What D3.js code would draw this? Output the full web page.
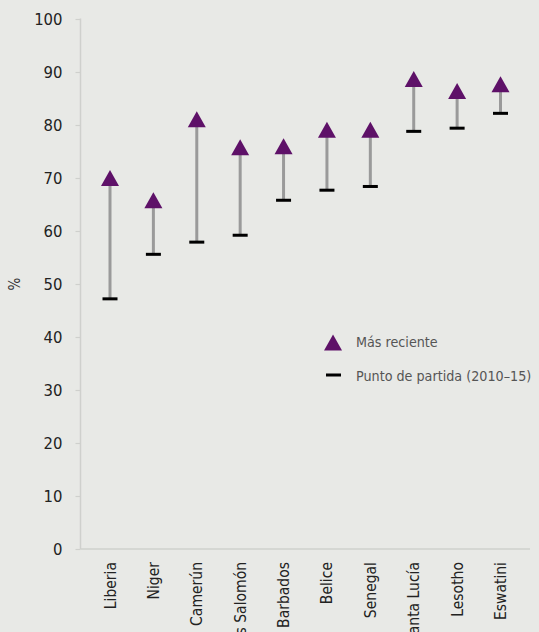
<!DOCTYPE html>
<html>
<head>
<meta charset="utf-8">
<script src="https://cdn.jsdelivr.net/npm/d3@7/dist/d3.min.js"></script>
<style>
  html, body { margin: 0; padding: 0; background: #e8e9e6; }
  svg { display: block; }
  text { font-family: "DejaVu Sans Condensed", "Liberation Sans Narrow", sans-serif; }
</style>
</head>
<body>
<svg id="chart" width="539" height="632"></svg>
<script>
// Countries and their values (%)
const countries = ["Liberia", "Niger", "Camerún", "Islas Salomón", "Barbados", "Belice", "Senegal", "Santa Lucía", "Lesotho", "Eswatini"];
const latest    = [70.0, 65.8, 81.1, 75.8, 76.0, 79.1, 79.1, 88.7, 86.4, 87.7];
const baseline  = [47.2, 55.6, 57.9, 59.2, 65.8, 67.7, 68.4, 78.8, 79.4, 82.2];
const yTicks    = [0, 10, 20, 30, 40, 50, 60, 70, 80, 90, 100];
const legendLabels = ["Más reciente", "Punto de partida (2010–15)"];

const svg = d3.select("#chart");
const axisX = 80.5, plotRight = 530, plotTop = 19, plotBottom = 549;

const y = d3.scaleLinear().domain([0, 100]).range([plotBottom, plotTop]);
const x = d3.scalePoint().domain(countries).range([110, 500.5]);

const purple = "#5e1168";
const stemGrey = "#9a9a9a";
const axisGrey = "#cfd0cd";

// Y axis
const yAxis = svg.append("g").attr("transform", `translate(${axisX},0)`)
  .call(d3.axisLeft(y).tickValues(yTicks).tickSize(5).tickPadding(13).tickFormat(d3.format("d")));
yAxis.select(".domain").attr("stroke", axisGrey).attr("stroke-width", 1.5).attr("d", `M0,${plotTop - 0.5}V${plotBottom}`);
yAxis.selectAll(".tick line").attr("stroke", axisGrey).attr("stroke-width", 1.2);
yAxis.selectAll(".tick text").attr("fill", "#222").attr("font-size", 16.5)
  .style("font-family", '"DejaVu Sans Condensed", "Liberation Sans Narrow", sans-serif');

// X axis baseline
svg.append("line")
  .attr("x1", axisX).attr("x2", plotRight)
  .attr("y1", y(0)).attr("y2", y(0))
  .attr("stroke", axisGrey).attr("stroke-width", 1.5);

// Category labels, rotated
svg.append("g").selectAll("text").data(countries).join("text")
  .attr("transform", d => `translate(${x(d) + 5.5},${y(0) + 13}) rotate(-90)`)
  .attr("text-anchor", "end")
  .attr("fill", "#222")
  .attr("font-size", 15.5)
  .text(d => d);

// Y label
svg.append("text")
  .attr("transform", `translate(20,${y(50)}) rotate(-90)`)
  .attr("text-anchor", "middle")
  .attr("fill", "#333")
  .attr("font-size", 15)
  .text("%");

const triW = 18, triH = 16;
const triPath = (cx, cy) => `M${cx},${cy - triH / 2}L${cx + triW / 2},${cy + triH / 2}L${cx - triW / 2},${cy + triH / 2}Z`;

const data = countries.map((c, i) => ({ c, latest: latest[i], base: baseline[i] }));

// Stems from starting point to latest value
svg.append("g").selectAll("line").data(data).join("line")
  .attr("x1", d => x(d.c)).attr("x2", d => x(d.c))
  .attr("y1", d => y(d.base)).attr("y2", d => y(d.latest))
  .attr("stroke", stemGrey).attr("stroke-width", 3);

// Starting-point dashes
svg.append("g").selectAll("rect").data(data).join("rect")
  .attr("x", d => x(d.c) - 7.5).attr("y", d => y(d.base) - 1.5)
  .attr("width", 15).attr("height", 3)
  .attr("fill", "#000");

// Latest-value triangles
svg.append("g").selectAll("path").data(data).join("path")
  .attr("d", d => triPath(x(d.c), y(d.latest)))
  .attr("fill", purple);

// Legend
const lg = svg.append("g");
lg.append("path").attr("d", triPath(333, 342.5)).attr("fill", purple);
lg.append("rect").attr("x", 326).attr("y", 373.5).attr("width", 15).attr("height", 3).attr("fill", "#000");
lg.selectAll("text").data(legendLabels).join("text")
  .attr("x", 356)
  .attr("y", (d, i) => 342 + i * 34)
  .attr("dy", "0.35em")
  .attr("fill", "#555")
  .attr("font-size", 14.2)
  .text(d => d);
</script>
</body>
</html>
